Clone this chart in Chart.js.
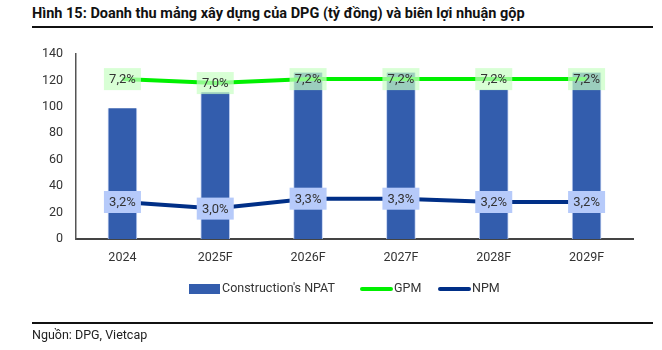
<!DOCTYPE html>
<html>
<head>
<meta charset="utf-8">
<script src="https://cdn.jsdelivr.net/npm/chart.js@4.4.1/dist/chart.umd.min.js"></script>
<style>
  body { margin: 0; background: #fff; font-family: Roboto, sans-serif; color: #222; }
  #wrap { position: relative; width: 662px; height: 350px; overflow: hidden; }
  #title { position: absolute; left: 32px; top: 5px; font-size: 14.5px; font-weight: bold; color: #111; white-space: nowrap; }
  .rule { position: absolute; left: 32px; width: 621px; height: 2px; background: #111; }
  #source { position: absolute; left: 32px; top: 327px; font-size: 12.5px; color: #222; }
  canvas { position: absolute; left: 0; top: 0; }
  .leg { position: absolute; font-size: 12.5px; color: #333; line-height: 14px; top: 281px; white-space: nowrap; }
  .sw { position: absolute; }
</style>
</head>
<body>
<div id="wrap">
  <div id="title">Hình 15: Doanh thu mảng xây dựng của DPG (tỷ đồng) và biên lợi nhuận gộp</div>
  <div class="rule" style="top:26px"></div>
  <canvas id="grafico" width="662" height="350"></canvas>
  <div class="sw" style="left:189px;top:284px;width:31px;height:10px;background:#335dad"></div>
  <div class="leg" style="left:222px">Construction's NPAT</div>
  <div class="sw" style="left:360px;top:287px;width:33px;height:4px;background:#00f000;border-radius:2px"></div>
  <div class="leg" style="left:394px">GPM</div>
  <div class="sw" style="left:438px;top:287px;width:33px;height:4px;background:#002f87;border-radius:2px"></div>
  <div class="leg" style="left:472px">NPM</div>
  <div class="rule" style="top:322px"></div>
  <div id="source">Nguồn: DPG, Vietcap</div>
</div>
<script>
var anos = ["2024", "2025F", "2026F", "2027F", "2028F", "2029F"];
var lucroConstrucao = [99, 111, 126, 126, 113, 126];
var margemBruta = [7.2, 7.0, 7.2, 7.2, 7.2, 7.2];
var margemLiquida = [3.2, 3.0, 3.3, 3.3, 3.2, 3.2];
var ticksEixo = [0, 20, 40, 60, 80, 100, 120, 140];

function formatarPercentual(v) {
    return v.toFixed(1).replace(".", ",") + "%";
}

// rotulos com caixa colorida nas linhas
var pluginRotulos = {
    id: "rotulos",
    afterDatasetsDraw: function (chart) {
        var ctx = chart.ctx;
        var fundos = { 1: "rgba(200,255,195,0.7)", 2: "rgb(182,202,250)" };
        [1, 2].forEach(function (i) {
            var meta = chart.getDatasetMeta(i);
            var valores = chart.data.datasets[i].data;
            meta.data.forEach(function (p, j) {
                var w = 37, h = 22;
                ctx.save();
                ctx.fillStyle = fundos[i];
                ctx.fillRect(p.x - w / 2, p.y - h / 2, w, h);
                ctx.fillStyle = "#333";
                ctx.font = "13px Roboto";
                ctx.textAlign = "center";
                ctx.textBaseline = "middle";
                ctx.fillText(formatarPercentual(valores[j]), p.x, p.y + 1);
                ctx.restore();
            });
        });
    }
};

var grafico = new Chart(document.getElementById("grafico"), {
    type: "bar",
    data: {
        labels: anos,
        datasets: [
            {
                type: "bar",
                label: "Construction's NPAT",
                data: lucroConstrucao,
                backgroundColor: "#335dad",
                borderColor: "rgba(190,205,240,0.9)",
                borderWidth: { left: 1, right: 1, top: 0, bottom: 0 },
                barThickness: 29,
                yAxisID: "y",
                order: 3
            },
            {
                type: "line",
                label: "GPM",
                data: margemBruta,
                borderColor: "#00f000",
                borderWidth: 4,
                pointRadius: 0,
                tension: 0,
                yAxisID: "yGPM",
                order: 1
            },
            {
                type: "line",
                label: "NPM",
                data: margemLiquida,
                borderColor: "#002f87",
                borderWidth: 4,
                pointRadius: 0,
                tension: 0,
                yAxisID: "yNPM",
                order: 2
            }
        ]
    },
    options: {
        responsive: false,
        animation: false,
        layout: { padding: { left: 0, right: 29, top: 54, bottom: 81 } },
        plugins: { legend: { display: false }, tooltip: { enabled: false } },
        scales: {
            x: {
                grid: { display: false, drawTicks: false },
                border: { display: true, color: "#444", width: 2 },
                ticks: { color: "#333", font: { family: "Roboto", size: 12.5 }, padding: 11 },
                afterFit: function (s) { s.height = 30; }
            },
            y: {
                min: 0,
                max: 140,
                afterBuildTicks: function (s) { s.ticks = ticksEixo.map(function (v) { return { value: v }; }); },
                grid: { display: false, drawTicks: false },
                border: { display: true, color: "#555", width: 1.5 },
                ticks: { color: "#333", font: { family: "Roboto", size: 12.5 }, padding: 13 },
                afterFit: function (s) { s.width = 76; }
            },
            yGPM: { display: false, min: -0.8667, max: 8.4667 },
            yNPM: { display: false, min: 2.08, max: 7.68 }
        }
    },
    plugins: [pluginRotulos]
});
</script>
</body>
</html>
